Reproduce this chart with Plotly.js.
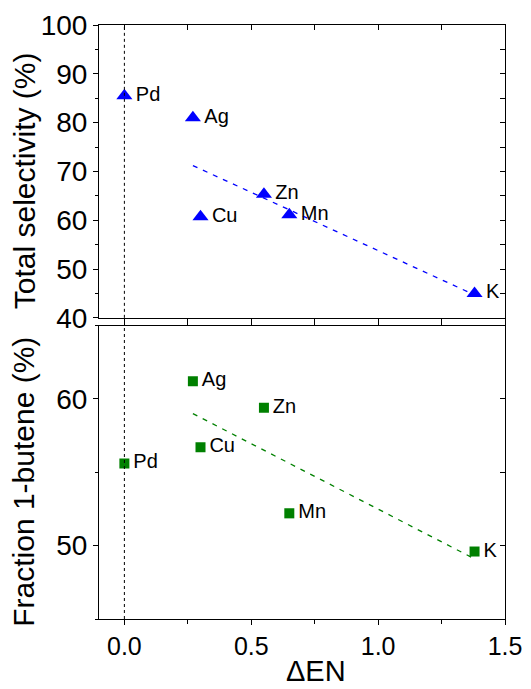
<!DOCTYPE html>
<html>
<head>
<meta charset="utf-8">
<script src="https://cdn.plot.ly/plotly-3.0.1.min.js"></script>
<style>html,body{margin:0;padding:0;background:#fff;}#chart{width:531px;height:689px;}</style>
</head>
<body>
<div id="chart"></div>
<script>
// ---- data ----
const metals = ['Pd', 'Ag', 'Cu', 'Zn', 'Mn', 'K'];
const deltaEN = [0, 0.27, 0.30, 0.55, 0.65, 1.38];
const totalSelectivity = [85.5, 81.0, 60.7, 65.3, 61.1, 45.0];
const fraction1Butene = [55.6, 61.2, 56.7, 59.4, 52.2, 49.6];
const fitX = [0.27, 1.38];
const fitSelectivity = [71.2, 44.7];
const fitFraction = [59.0, 49.1];
const refLineX = 0;

const xTickVals = [0, 0.5, 1.0, 1.5];
const xTickText = ['0.0', '0.5', '1.0', '1.5'];
const xTitle = 'ΔEN';
const topYTitle = 'Total selectivity (%)';
const bottomYTitle = 'Fraction 1-butene (%)';

const FONT = 'Liberation Sans, Arial, sans-serif';
const BLUE = '#0000ff';
const GREEN = '#008000';
const labelText = metals.map(m => '\u200A' + m);

const traces = [
  {
    x: fitX, y: fitSelectivity, xaxis: 'x2', yaxis: 'y2', mode: 'lines',
    line: {color: BLUE, width: 1.3, dash: '5px,6px'}, hoverinfo: 'skip', showlegend: false
  },
  {
    x: deltaEN, y: totalSelectivity, xaxis: 'x2', yaxis: 'y2', mode: 'markers+text',
    text: labelText, textposition: 'middle right',
    textfont: {family: FONT, size: 20, color: '#000'},
    marker: {symbol: 'triangle-up', size: 14, color: BLUE}, showlegend: false
  },
  {
    x: fitX, y: fitFraction, xaxis: 'x', yaxis: 'y', mode: 'lines',
    line: {color: GREEN, width: 1.3, dash: '5px,6px'}, hoverinfo: 'skip', showlegend: false
  },
  {
    x: deltaEN, y: fraction1Butene, xaxis: 'x', yaxis: 'y', mode: 'markers+text',
    text: labelText, textposition: 'middle right',
    textfont: {family: FONT, size: 20, color: '#000'},
    marker: {symbol: 'square', size: 10, color: GREEN}, showlegend: false
  }
];

const baseAxis = {
  showgrid: false, zeroline: false, showline: true, linecolor: '#000', linewidth: 1,
  tickcolor: '#000', tickwidth: 1
};

const layout = {
  width: 531, height: 689,
  margin: {l: 99, r: 26, t: 25, b: 70},
  paper_bgcolor: '#fff', plot_bgcolor: '#fff',
  font: {family: FONT, color: '#000'},
  xaxis: Object.assign({}, baseAxis, {
    domain: [0, 1], anchor: 'y', range: [-0.1, 1.5],
    tickvals: xTickVals, ticktext: xTickText,
    ticks: 'outside', ticklen: 5, mirror: true,
    minor: {dtick: 0.25, tick0: 0, ticks: 'outside', ticklen: 4, tickcolor: '#000', showgrid: false},
    tickfont: {size: 25, family: FONT}
  }),
  yaxis: Object.assign({}, baseAxis, {
    domain: [0, 0.494], anchor: 'x', range: [45, 65],
    tick0: 50, dtick: 10, ticks: 'outside', ticklen: 5, mirror: true,
    minor: {dtick: 5, tick0: 45, ticks: 'outside', ticklen: 3, tickcolor: '#000', showgrid: false},
    tickfont: {size: 28, family: FONT}
  }),
  xaxis2: Object.assign({}, baseAxis, {
    domain: [0, 1], anchor: 'y2', matches: 'x', range: [-0.1, 1.5],
    tick0: 0, dtick: 0.25, ticks: 'outside', ticklen: 6, showticklabels: false, mirror: true
  }),
  yaxis2: Object.assign({}, baseAxis, {
    domain: [0.507, 1], anchor: 'x2', range: [40, 100],
    tick0: 40, dtick: 10, ticks: 'outside', ticklen: 5, mirror: true,
    minor: {dtick: 5, tick0: 40, ticks: 'outside', ticklen: 3, tickcolor: '#000', showgrid: false},
    tickfont: {size: 28, family: FONT}
  }),
  xaxis3: {
    overlaying: 'x2', anchor: 'y2', side: 'top', range: [-0.1, 1.5],
    tick0: 0, dtick: 0.25, ticks: 'inside', ticklen: 5, tickcolor: '#000',
    showticklabels: false, showgrid: false, zeroline: false, showline: false
  },
  yaxis3: {
    overlaying: 'y2', anchor: 'x2', side: 'right', range: [40, 100],
    tick0: 40, dtick: 5, ticks: 'inside', ticklen: 5, tickcolor: '#000',
    showticklabels: false, showgrid: false, zeroline: false, showline: false
  },
  yaxis4: {
    overlaying: 'y', anchor: 'x', side: 'right', range: [45, 65],
    tick0: 45, dtick: 5, ticks: 'inside', ticklen: 5, tickcolor: '#000',
    showticklabels: false, showgrid: false, zeroline: false, showline: false
  },
  annotations: [
    {text: topYTitle, xref: 'paper', yref: 'paper', x: 0, y: 0.737, xshift: -75,
     xanchor: 'center', yanchor: 'middle', textangle: -90, showarrow: false,
     font: {size: 30, family: FONT, color: '#000'}},
    {text: bottomYTitle, xref: 'paper', yref: 'paper', x: 0, y: 0.231, xshift: -75,
     xanchor: 'center', yanchor: 'middle', textangle: -90, showarrow: false,
     font: {size: 30, family: FONT, color: '#000'}},
    {text: xTitle, xref: 'paper', yref: 'paper', x: 0.534, y: 0, yshift: -52,
     xanchor: 'center', yanchor: 'middle', showarrow: false,
     font: {size: 29, family: FONT, color: '#000'}}
  ],
  shapes: [
    {type: 'line', xref: 'x2', yref: 'y2 domain', x0: refLineX, x1: refLineX, y0: 0, y1: 1,
     line: {color: '#000', width: 1, dash: 'dot'}},
    {type: 'line', xref: 'x', yref: 'y domain', x0: refLineX, x1: refLineX, y0: 0, y1: 1,
     line: {color: '#000', width: 1, dash: 'dot'}}
  ]
};

// empty traces that activate the mirrored tick axes
traces.push({x: [], y: [], xaxis: 'x3', yaxis: 'y2', showlegend: false, hoverinfo: 'skip'});
traces.push({x: [], y: [], xaxis: 'x2', yaxis: 'y3', showlegend: false, hoverinfo: 'skip'});
traces.push({x: [], y: [], xaxis: 'x', yaxis: 'y4', showlegend: false, hoverinfo: 'skip'});

Plotly.newPlot('chart', traces, layout, {staticPlot: true});
</script>
</body>
</html>
